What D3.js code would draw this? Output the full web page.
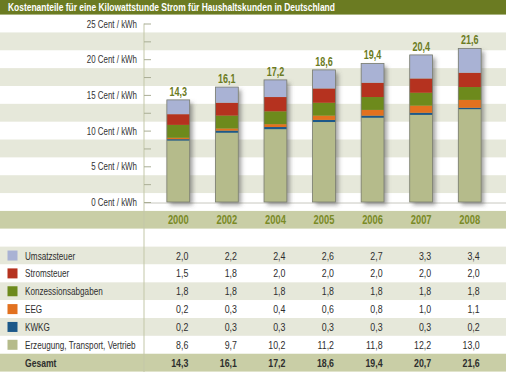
<!DOCTYPE html>
<html>
<head>
<meta charset="utf-8">
<script src="https://cdn.jsdelivr.net/npm/d3@7"></script>
<style>
  body { margin: 0; background: #fff; }
  svg { display: block; font-family: "Liberation Sans", Arial, sans-serif; }
</style>
</head>
<body>
<div id="chart"></div>
<script>
// Kostenanteile je Jahr (Cent / kWh)
const years = ["2000", "2002", "2004", "2005", "2006", "2007", "2008"];
const barLabels = [14.3, 16.1, 17.2, 18.6, 19.4, 20.4, 21.6];
const umsatzsteuer = [2.0, 2.2, 2.4, 2.6, 2.7, 3.3, 3.4];
const stromsteuer = [1.5, 1.8, 2.0, 2.0, 2.0, 2.0, 2.0];
const konzession = [1.8, 1.8, 1.8, 1.8, 1.8, 1.8, 1.8];
const eeg = [0.2, 0.3, 0.4, 0.6, 0.8, 1.0, 1.1];
const kwkg = [0.2, 0.3, 0.3, 0.3, 0.3, 0.3, 0.2];
const erzeugung = [8.6, 9.7, 10.2, 11.2, 11.8, 12.2, 13.0];
const gesamt = [14.3, 16.1, 17.2, 18.6, 19.4, 20.7, 21.6];

const seriesNames = ["Umsatzsteuer", "Stromsteuer", "Konzessionsabgaben", "EEG", "KWKG", "Erzeugung, Transport, Vertrieb"];
const seriesValues = [umsatzsteuer, stromsteuer, konzession, eeg, kwkg, erzeugung];
const seriesColors = ["#a9b2d4", "#b5321f", "#6d8a1c", "#e2711f", "#1c5889", "#b5bb8b"];
const yTicks = [0, 5, 10, 15, 20, 25];

const width = 506, height = 372;
const olive = "#6b7b22";
const stripe = "#e6e8da";
const band = "#c9cea6";

const svg = d3.select("#chart").append("svg")
    .attr("width", width)
    .attr("height", height);

const defs = svg.append("defs");
const shadow = defs.append("filter").attr("id", "shadow")
    .attr("x", "-30%").attr("y", "-10%").attr("width", "170%").attr("height", "130%");
shadow.append("feDropShadow")
    .attr("dx", 3).attr("dy", 3).attr("stdDeviation", 2.2)
    .attr("flood-color", "#555").attr("flood-opacity", 0.55);

const y = d3.scaleLinear().domain([0, 25]).range([202, 23.5]);
const rowH = y(0) - y(2.5);
const x = d3.scaleBand().domain(years).range([154, 494]).paddingInner(0.53).paddingOuter(0.265);
const fmt = v => d3.format(".1f")(v).replace(".", ",");

// condensed look: squeeze the text horizontally
function label(sel, px, py, str, anchor, sx) {
    return sel.append("text")
        .attr("transform", "translate(" + px + "," + py + ") scale(" + (sx || 0.74) + ",1)")
        .attr("text-anchor", anchor)
        .text(str);
}

// background stripes in the chart area
svg.append("g").selectAll("rect")
    .data([22.5, 17.5, 12.5, 7.5, 2.5])
    .join("rect")
    .attr("x", 0).attr("width", width)
    .attr("y", d => y(d + 1.25))
    .attr("height", rowH)
    .attr("fill", stripe);

// table rows
const tableTop = y(-1.25);
const rowTop = i => tableTop + i * rowH;
const rowFill = i => (i === 0 || i === 8) ? band : (i % 2 === 0 ? stripe : "#fff");
svg.append("g").selectAll("rect")
    .data(d3.range(9))
    .join("rect")
    .attr("x", 0).attr("width", width)
    .attr("y", d => rowTop(d))
    .attr("height", rowH)
    .attr("fill", d => rowFill(d));

// title bar
svg.append("rect").attr("x", 0).attr("y", 0).attr("width", width).attr("height", y(25) - rowH / 2)
    .attr("fill", olive);
label(svg, 8, 11, "Kostenanteile für eine Kilowattstunde Strom für Haushaltskunden in Deutschland", "start", 0.735)
    .attr("fill", "#fff").attr("font-size", 11.5).attr("font-weight", "bold");

// axis line and ticks
const axisX = 144;
svg.append("line")
    .attr("x1", axisX).attr("x2", axisX)
    .attr("y1", y(25)).attr("y2", height)
    .attr("stroke", "#c3c7a8").attr("stroke-width", 1);
svg.append("line")
    .attr("x1", axisX).attr("x2", width)
    .attr("y1", y(0) + 1).attr("y2", y(0) + 1)
    .attr("stroke", "#c8c8c0").attr("stroke-width", 1);

const axisG = svg.append("g")
    .attr("transform", "translate(" + axisX + ",0)")
    .call(d3.axisRight(y).tickValues(d3.range(0, 25.1, 2.5)).tickSize(7).tickFormat(""));
axisG.select(".domain").remove();
axisG.selectAll(".tick line").attr("stroke", "#a9ad94");

const yLabels = svg.append("g").attr("fill", "#333").attr("font-size", 11.5);
yTicks.forEach(t => label(yLabels, 137, y(t) + 4, t + " Cent / kWh", "end", 0.69));

// stacked bars
const rows = years.map((yr, i) => {
    const r = { year: yr };
    seriesNames.forEach((n, k) => r[n] = seriesValues[k][i]);
    return r;
});
const stackOrder = seriesNames.slice().reverse();
const stacked = d3.stack().keys(stackOrder)(rows);
const colorOf = d3.scaleOrdinal().domain(seriesNames).range(seriesColors);
const barTop = d => y(d3.sum(seriesNames, n => d[n]));

const bars = svg.append("g");
bars.selectAll("rect.shadow")
    .data(rows)
    .join("rect")
    .attr("class", "shadow")
    .attr("x", d => x(d.year))
    .attr("width", x.bandwidth())
    .attr("y", d => barTop(d))
    .attr("height", d => y(0) - barTop(d))
    .attr("fill", "#b5bb8b")
    .attr("filter", "url(#shadow)");

bars.selectAll("g.layer")
    .data(stacked)
    .join("g")
    .attr("class", "layer")
    .attr("fill", d => colorOf(d.key))
    .selectAll("rect")
    .data(d => d)
    .join("rect")
    .attr("x", d => x(d.data.year))
    .attr("width", x.bandwidth())
    .attr("y", d => y(d[1]))
    .attr("height", d => y(d[0]) - y(d[1]));

bars.selectAll("rect.outline")
    .data(rows)
    .join("rect")
    .attr("class", "outline")
    .attr("x", d => x(d.year))
    .attr("width", x.bandwidth())
    .attr("y", d => barTop(d))
    .attr("height", d => y(0) - barTop(d))
    .attr("fill", "none")
    .attr("stroke", "#7a7d72")
    .attr("stroke-width", 0.8);

// totals above the bars
const totals = svg.append("g").attr("fill", olive).attr("font-size", 12.5).attr("font-weight", "bold");
rows.forEach((d, i) => {
    label(totals, x(d.year) + x.bandwidth() / 2, barTop(d) - 4, fmt(barLabels[i]), "middle", 0.72);
});

// year header
const yearG = svg.append("g").attr("fill", "#7a8a26").attr("font-size", 12).attr("font-weight", "bold");
years.forEach(yr => label(yearG, x(yr) + x.bandwidth() / 2, rowTop(0) + rowH / 2 + 4, yr, "middle", 0.78));

// legend + values table
const table = svg.append("g").attr("font-size", 11).attr("fill", "#2e2e2e");
seriesNames.forEach((n, k) => {
    const cy = rowTop(k + 2) + rowH / 2;
    table.append("rect")
        .attr("x", 7.5).attr("y", cy - 5)
        .attr("width", 10).attr("height", 10)
        .attr("fill", seriesColors[k]);
    label(table, 25, cy + 4, n, "start");
    seriesValues[k].forEach((v, i) => label(table, x(years[i]) + x.bandwidth() / 2 + 10, cy + 4, fmt(v), "end", 0.8));
});
const gy = rowTop(8) + rowH / 2 + 4;
const totalRow = svg.append("g").attr("font-size", 11).attr("font-weight", "bold").attr("fill", "#2e2e2e");
label(totalRow, 25, gy, "Gesamt", "start", 0.78);
gesamt.forEach((v, i) => label(totalRow, x(years[i]) + x.bandwidth() / 2 + 10, gy, fmt(v), "end", 0.8));
</script>
</body>
</html>
